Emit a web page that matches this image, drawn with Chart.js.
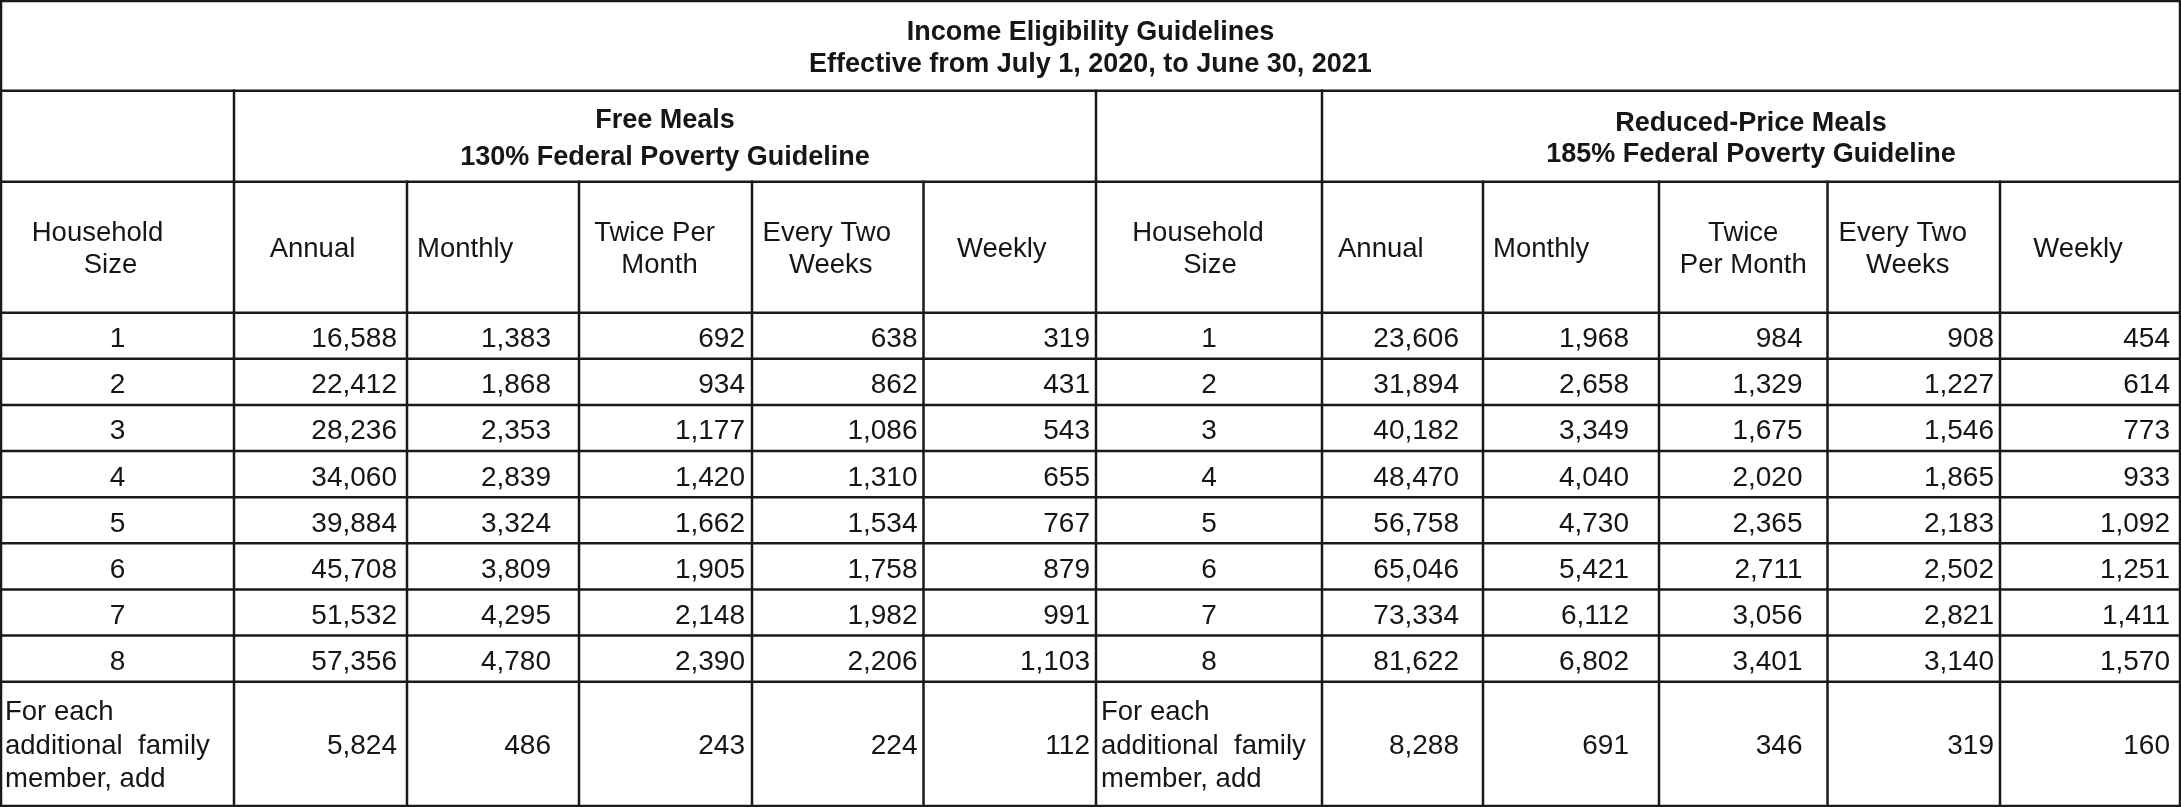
<!DOCTYPE html>
<html>
<head>
<meta charset="utf-8">
<title>Income Eligibility Guidelines</title>
<script src="https://cdn.jsdelivr.net/npm/chart.js@4"></script>
<style>
  html, body { margin: 0; padding: 0; background: #fff; overflow: hidden; }
  canvas { display: block; }
</style>
</head>
<body>
<canvas id="table" width="2181" height="807"></canvas>
<script>
// ---- table content ----
const titleLines = ['Income Eligibility Guidelines', 'Effective from July 1, 2020, to June 30, 2021'];
const freeHeader = ['Free Meals', '130% Federal Poverty Guideline'];
const reducedHeader = ['Reduced-Price Meals', '185% Federal Poverty Guideline'];
const freeColumns = [['Household', 'Size'], ['Annual'], ['Monthly'], ['Twice Per', 'Month'], ['Every Two', 'Weeks'], ['Weekly']];
const reducedColumns = [['Household', 'Size'], ['Annual'], ['Monthly'], ['Twice', 'Per Month'], ['Every Two', 'Weeks'], ['Weekly']];
const householdSizes = ['1', '2', '3', '4', '5', '6', '7', '8'];
const additionalLabel = ['For each', 'additional  family', 'member, add'];

// last value of each series = "for each additional family member, add"
const freeAnnual = [16588, 22412, 28236, 34060, 39884, 45708, 51532, 57356, 5824];
const freeMonthly = [1383, 1868, 2353, 2839, 3324, 3809, 4295, 4780, 486];
const freeTwicePerMonth = [692, 934, 1177, 1420, 1662, 1905, 2148, 2390, 243];
const freeEveryTwoWeeks = [638, 862, 1086, 1310, 1534, 1758, 1982, 2206, 224];
const freeWeekly = [319, 431, 543, 655, 767, 879, 991, 1103, 112];

const reducedAnnual = [23606, 31894, 40182, 48470, 56758, 65046, 73334, 81622, 8288];
const reducedMonthly = [1968, 2658, 3349, 4040, 4730, 5421, 6112, 6802, 691];
const reducedTwicePerMonth = [984, 1329, 1675, 2020, 2365, 2711, 3056, 3401, 346];
const reducedEveryTwoWeeks = [908, 1227, 1546, 1865, 2183, 2502, 2821, 3140, 319];
const reducedWeekly = [454, 614, 773, 933, 1092, 1251, 1411, 1570, 160];

// ---- layout (scale units) ----
const colEdges = [1, 234, 407, 579, 752, 923.5, 1096, 1322, 1483, 1659, 1827.5, 2000, 2180];
const rowEdges = [1, 90.7, 181.7, 312.7, 358.8, 404.9, 451, 497.2, 543.3, 589.4, 635.5, 681.7, 806];
const freeRightPad = [0, 10, 28, 7, 6, 6];
const reducedRightPad = [0, 24, 30, 25, 6, 10];

const FONT = "'Liberation Sans', Arial, sans-serif";
const INK = '#161616';
const LINE = '#1a1a1a';

const fmt = v => v.toLocaleString('en-US');

const tablePlugin = {
  id: 'tableCells',
  beforeDraw(chart) {
    const ctx = chart.ctx;
    ctx.save();
    ctx.fillStyle = '#fff';
    ctx.fillRect(0, 0, chart.width, chart.height);
    ctx.restore();
  },
  afterDraw(chart) {
    const { ctx, scales: { x, y } } = chart;
    const px = v => x.getPixelForValue(v);
    const py = v => y.getPixelForValue(v);

    // text block centred vertically in a cell
    function block(lines, c0, c1, r0, r1, opt) {
      const size = opt.size || 27.5;
      const spacing = opt.spacing || 32;
      const capH = size * 0.716;
      ctx.font = (opt.bold ? 'bold ' : '') + size + 'px ' + FONT;
      ctx.fillStyle = INK;
      ctx.textBaseline = 'alphabetic';
      const left = px(colEdges[c0]), right = px(colEdges[c1]);
      const cy = (py(rowEdges[r0]) + py(rowEdges[r1])) / 2 + (opt.dy || 0);
      lines.forEach((t, i) => {
        const base = cy - (lines.length - 1) * spacing / 2 + i * spacing + capH / 2;
        let tx;
        if (opt.align === 'left') { ctx.textAlign = 'left'; tx = left + (opt.pad || 5); }
        else if (opt.align === 'right') { ctx.textAlign = 'right'; tx = right - (opt.pad || 5); }
        else {
          ctx.textAlign = 'center';
          const dx = opt.dxs ? opt.dxs[i] : (opt.dx || 0);
          tx = (left + right) / 2 + dx;
        }
        ctx.fillText(t, tx, base);
      });
    }

    // titles
    block(titleLines, 0, 12, 0, 1, { bold: true, size: 27, spacing: 32.4, dy: 0.6 });
    block(freeHeader, 1, 6, 1, 2, { bold: true, size: 27, spacing: 37, dy: 1 });
    block(reducedHeader, 7, 12, 1, 2, { bold: true, size: 27, spacing: 31.7, dy: 0.6 });

    // column headers
    const headerAlign = [
      { dxs: [-20, -7] }, { dx: -8 }, { align: 'left', pad: 10 }, { dxs: [-11, -6] }, { dxs: [-11, -7] }, { dx: -8 }
    ];
    const reducedHeaderAlign = [
      { dxs: [-11, 1] }, { align: 'left', pad: 16 }, { align: 'left', pad: 10 }, { dx: 0 }, { dxs: [-11, -6] }, { dx: -12 }
    ];
    freeColumns.forEach((lines, i) => block(lines, i, i + 1, 2, 3, Object.assign({ spacing: 32 }, headerAlign[i])));
    reducedColumns.forEach((lines, i) => block(lines, 6 + i, 7 + i, 2, 3, Object.assign({ spacing: 32 }, reducedHeaderAlign[i])));

    // body rows
    const freeSeries = [freeAnnual, freeMonthly, freeTwicePerMonth, freeEveryTwoWeeks, freeWeekly];
    const reducedSeries = [reducedAnnual, reducedMonthly, reducedTwicePerMonth, reducedEveryTwoWeeks, reducedWeekly];
    const nRows = householdSizes.length + 1;
    for (let r = 0; r < nRows; r++) {
      const r0 = 3 + r, r1 = 4 + r;
      const dy = r < householdSizes.length ? 1.5 : 0;
      if (r < householdSizes.length) {
        block([householdSizes[r]], 0, 1, r0, r1, { size: 28, dy });
        block([householdSizes[r]], 6, 7, r0, r1, { size: 28, dy });
      } else {
        block(additionalLabel, 0, 1, r0, r1, { size: 27.5, spacing: 33.4, align: 'left', pad: 4 });
        block(additionalLabel, 6, 7, r0, r1, { size: 27.5, spacing: 33.4, align: 'left', pad: 5 });
      }
      freeSeries.forEach((s, k) =>
        block([fmt(s[r])], 1 + k, 2 + k, r0, r1, { size: 28, align: 'right', pad: freeRightPad[k + 1], dy }));
      reducedSeries.forEach((s, k) =>
        block([fmt(s[r])], 7 + k, 8 + k, r0, r1, { size: 28, align: 'right', pad: reducedRightPad[k + 1], dy }));
    }

    // grid lines
    ctx.save();
    ctx.strokeStyle = LINE;
    ctx.lineWidth = 2.5;
    ctx.lineCap = 'square';
    const hLine = (r, c0, c1) => {
      ctx.beginPath();
      ctx.moveTo(px(colEdges[c0]), py(rowEdges[r]));
      ctx.lineTo(px(colEdges[c1]), py(rowEdges[r]));
      ctx.stroke();
    };
    const vLine = (c, r0, r1) => {
      ctx.beginPath();
      ctx.moveTo(px(colEdges[c]), py(rowEdges[r0]));
      ctx.lineTo(px(colEdges[c]), py(rowEdges[r1]));
      ctx.stroke();
    };
    for (let r = 0; r < rowEdges.length; r++) hLine(r, 0, colEdges.length - 1);
    vLine(0, 0, rowEdges.length - 1);
    vLine(colEdges.length - 1, 0, rowEdges.length - 1);
    [1, 6, 7].forEach(c => vLine(c, 1, 2));
    for (let c = 1; c < colEdges.length - 1; c++) vLine(c, 2, rowEdges.length - 1);
    ctx.restore();
  }
};

new Chart(document.getElementById('table').getContext('2d'), {
  type: 'scatter',
  data: { datasets: [{ data: [], pointRadius: 0 }] },
  options: {
    responsive: false,
    animation: false,
    devicePixelRatio: 1,
    layout: { padding: 0 },
    events: [],
    plugins: { legend: { display: false }, tooltip: { enabled: false } },
    scales: {
      x: { type: 'linear', min: 0, max: 2181, display: false },
      y: { type: 'linear', min: 0, max: 807, reverse: true, display: false }
    }
  },
  plugins: [tablePlugin]
});
</script>
</body>
</html>
